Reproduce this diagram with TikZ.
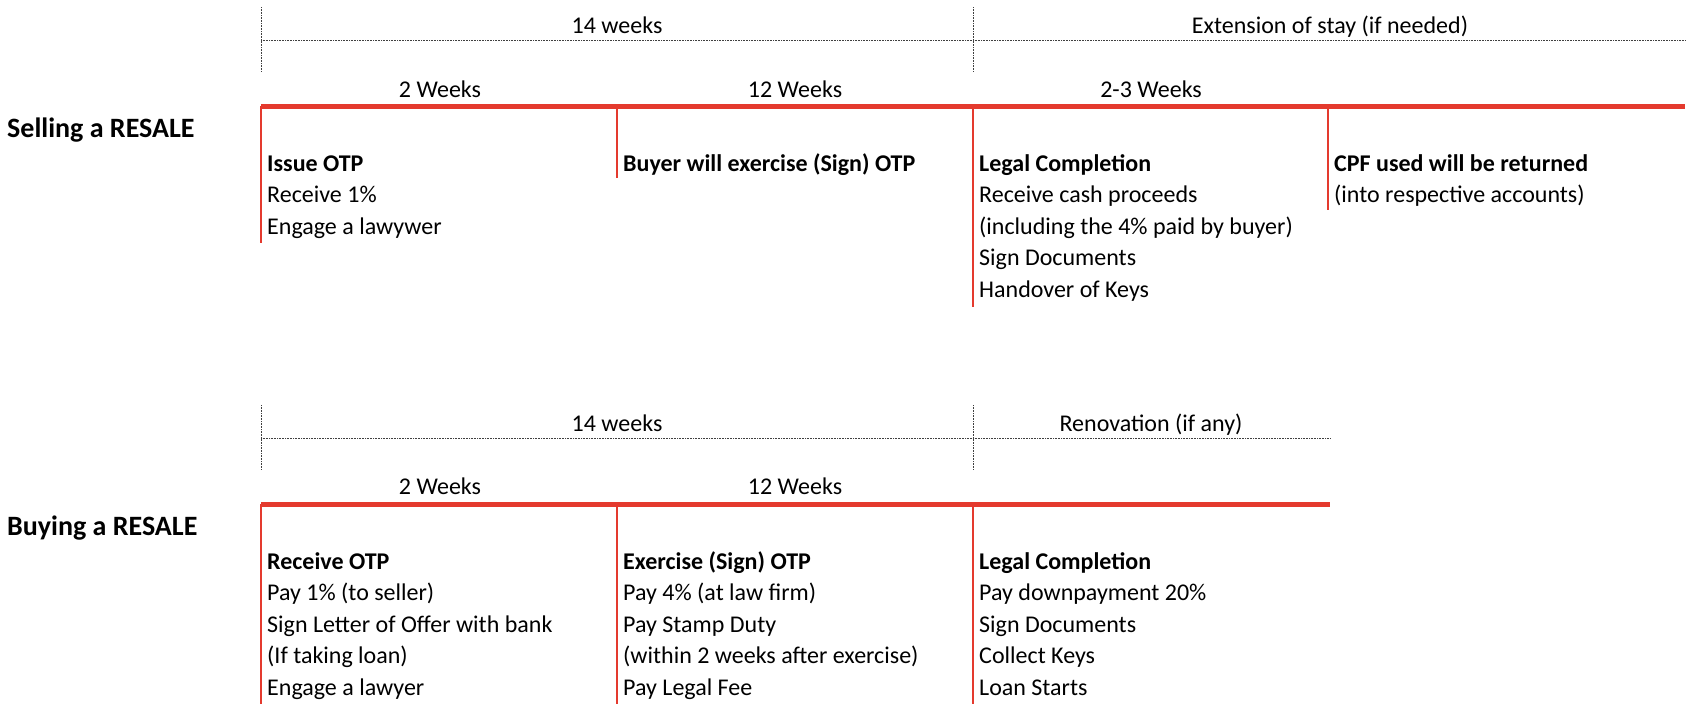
\documentclass[tikz,border=0pt]{standalone}
\usepackage{fontspec}
\setmainfont{Carlito}
\definecolor{tlred}{RGB}{228,58,46}
\begin{document}
\begin{tikzpicture}[x=1pt,y=-1pt,
  lbl/.style={inner sep=0pt,anchor=base,font=\fontsize{24}{28}\selectfont},
  txt/.style={inner sep=0pt,anchor=base west,font=\fontsize{24}{28}\selectfont},
  hd/.style={txt,font=\fontsize{24}{28}\selectfont\bfseries},
  ttl/.style={inner sep=0pt,anchor=base west,font=\fontsize{28}{32}\selectfont\bfseries},
  hair/.style={line width=0.8pt,black!75,dash pattern=on 0.8pt off 0.8pt},
  thick red/.style={line width=5pt,tlred},
  tick red/.style={line width=1.8pt,tlred}]
\useasboundingbox (0,0) rectangle (1693,712);
\fill[white] (0,0) rectangle (1693,712);

% ================= SELLING =================
\coordinate (s1a) at (261,7);  \coordinate (s1b) at (261,72);
\coordinate (s2a) at (973,7);  \coordinate (s2b) at (973,72);
\coordinate (sdl) at (261,40); \coordinate (sdr) at (1685,40);
\draw[hair] (s1a) -- (s1b);
\draw[hair] (s2a) -- (s2b);
\draw[hair] (sdl) -- (sdr);
\node[lbl] (s14) at (617,33) {14 weeks};
\node[lbl] (sext) at (1330,33) {Extension of stay (if needed)};
\node[lbl] (s2w) at (440,97) {2 Weeks};
\node[lbl] (s12w) at (795,97) {12 Weeks};
\node[lbl] (s23w) at (1151,97) {2-3 Weeks};

\coordinate (srl) at (261,106); \coordinate (srr) at (1685,106);
\coordinate (sc1) at (261,106); \coordinate (sc1e) at (261,243);
\coordinate (sc2) at (617,106); \coordinate (sc2e) at (617,178);
\coordinate (sc3) at (973,106); \coordinate (sc3e) at (973,307);
\coordinate (sc4) at (1328,106); \coordinate (sc4e) at (1328,210);
\draw[tick red] (sc1) -- (sc1e);
\draw[tick red] (sc2) -- (sc2e);
\draw[tick red] (sc3) -- (sc3e);
\draw[tick red] (sc4) -- (sc4e);
\draw[thick red] (srl) -- (srr);

\node[ttl] (sell) at (7,137) {Selling a RESALE};

\node[hd]  (sa1) at (267,171)   {Issue OTP};
\node[txt] (sa2) at (267,202.5) {Receive 1\%};
\node[txt] (sa3) at (267,234)   {Engage a lawywer};

\node[hd]  (sb1) at (623,171)   {Buyer will exercise (Sign) OTP};

\node[hd]  (sc1t) at (979,171)   {Legal Completion};
\node[txt] (sc2t) at (979,202.5) {Receive cash proceeds};
\node[txt] (sc3t) at (979,234)   {(including the 4\% paid by buyer)};
\node[txt] (sc4t) at (979,265.5) {Sign Documents};
\node[txt] (sc5t) at (979,297)   {Handover of Keys};

\node[hd]  (sd1) at (1334,171)   {CPF used will be returned};
\node[txt] (sd2) at (1334,202.5) {(into respective accounts)};

% ================= BUYING =================
\coordinate (b1a) at (261,405);  \coordinate (b1b) at (261,470);
\coordinate (b2a) at (973,405);  \coordinate (b2b) at (973,470);
\coordinate (bdl) at (261,438);  \coordinate (bdr) at (1330,438);
\draw[hair] (b1a) -- (b1b);
\draw[hair] (b2a) -- (b2b);
\draw[hair] (bdl) -- (bdr);
\node[lbl] (b14) at (617,431) {14 weeks};
\node[lbl] (bren) at (1151,431) {Renovation (if any)};
\node[lbl] (b2w) at (440,494) {2 Weeks};
\node[lbl] (b12w) at (795,494) {12 Weeks};

\coordinate (brl) at (261,504); \coordinate (brr) at (1330,504);
\coordinate (bc1) at (261,504); \coordinate (bc1e) at (261,704);
\coordinate (bc2) at (617,504); \coordinate (bc2e) at (617,704);
\coordinate (bc3) at (973,504); \coordinate (bc3e) at (973,704);
\draw[tick red] (bc1) -- (bc1e);
\draw[tick red] (bc2) -- (bc2e);
\draw[tick red] (bc3) -- (bc3e);
\draw[thick red] (brl) -- (brr);

\node[ttl] (buy) at (7,535) {Buying a RESALE};

\node[hd]  (ba1) at (267,569)   {Receive OTP};
\node[txt] (ba2) at (267,600.5) {Pay 1\% (to seller)};
\node[txt] (ba3) at (267,632)   {Sign Letter of Offer with bank};
\node[txt] (ba4) at (267,663.5) {(If taking loan)};
\node[txt] (ba5) at (267,695)   {Engage a lawyer};

\node[hd]  (bb1) at (623,569)   {Exercise (Sign) OTP};
\node[txt] (bb2) at (623,600.5) {Pay 4\% (at law firm)};
\node[txt] (bb3) at (623,632)   {Pay Stamp Duty};
\node[txt] (bb4) at (623,663.5) {(within 2 weeks after exercise)};
\node[txt] (bb5) at (623,695)   {Pay Legal Fee};

\node[hd]  (bc1t) at (979,569)   {Legal Completion};
\node[txt] (bc2t) at (979,600.5) {Pay downpayment 20\%};
\node[txt] (bc3t) at (979,632)   {Sign Documents};
\node[txt] (bc4t) at (979,663.5) {Collect Keys};
\node[txt] (bc5t) at (979,695)   {Loan Starts};
\end{tikzpicture}
\end{document}
